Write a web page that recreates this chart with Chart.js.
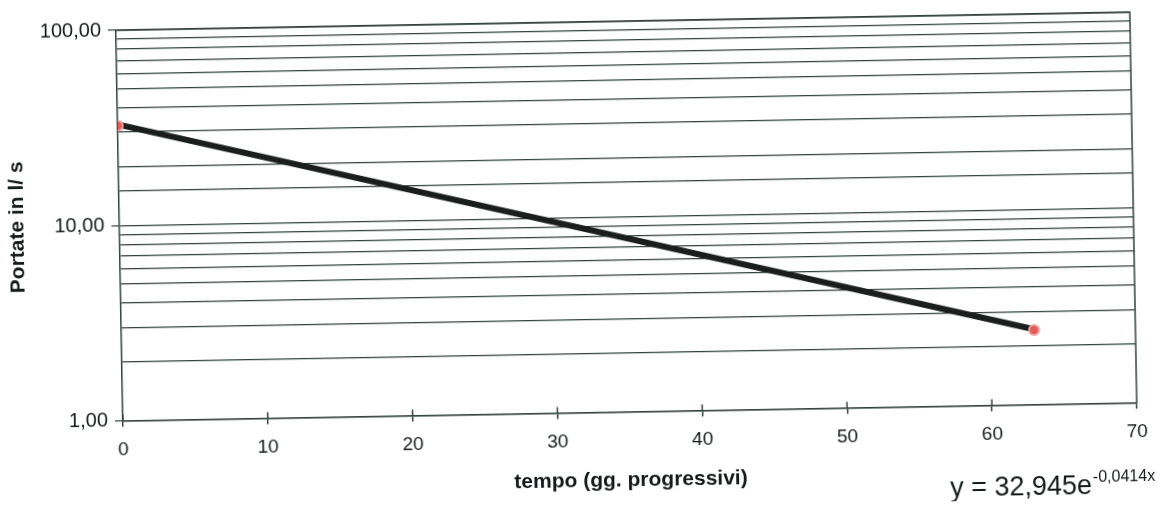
<!DOCTYPE html>
<html>
<head>
<meta charset="utf-8">
<script src="https://cdn.jsdelivr.net/npm/chart.js@4"></script>
<style>
  body { margin: 0; background: #fff; overflow: hidden; }
  #wrap { width: 1169px; height: 508px; }
  /* the scanned sheet sits slightly askew */
  #flowChart { transform: rotate(-1.02deg); transform-origin: 50% 50%; }
</style>
</head>
<body>
<div id="wrap"><canvas id="flowChart" width="1169" height="508"></canvas></div>
<script>
// measured flows
const days = [0, 63];
const flows = [32.4, 2.41];

// exponential trend line
const trendDays = [0, 63];
const trendFlows = [32.95, 2.43];

// axes
const xTicks = [0, 10, 20, 30, 40, 50, 60, 70];
const yMajor = [1, 10, 100];
const yLabels = ["1,00", "10,00", "100,00"];
const equation = "y = 32,945e";
const exponent = "-0,0414x";

const ink = "#141a19";
const lineCol = "#33403e";

// top + right border and the small inner x ticks
const frame = {
    id: "frame",
    beforeDatasetsDraw(chart) {
        const { ctx, chartArea: a, scales: { x } } = chart;
        ctx.save();
        ctx.strokeStyle = lineCol;
        ctx.lineWidth = 1.5;
        ctx.beginPath();
        ctx.moveTo(a.left, a.top);
        ctx.lineTo(a.right, a.top);
        ctx.lineTo(a.right, a.bottom);
        xTicks.forEach((v) => {
            const px = x.getPixelForValue(v);
            ctx.moveTo(px, a.bottom);
            ctx.lineTo(px, a.bottom - 6);
        });
        ctx.stroke();
        ctx.restore();
    },
    afterDraw(chart) {
        const ctx = chart.ctx;
        ctx.save();
        ctx.fillStyle = ink;
        ctx.textBaseline = "alphabetic";
        ctx.font = "27px 'Liberation Sans', Arial, sans-serif";
        ctx.fillText(equation, 946, 503);
        const w = ctx.measureText(equation).width;
        ctx.font = "16px 'Liberation Sans', Arial, sans-serif";
        ctx.fillText(exponent, 946 + w + 1, 491);
        ctx.restore();
    },
};

const ctx = document.getElementById("flowChart").getContext("2d");
new Chart(ctx, {
    type: "scatter",
    data: {
        datasets: [
            {
                label: "Portate",
                data: days.map((d, i) => ({ x: d, y: flows[i] })),
                pointRadius: 5,
                pointBackgroundColor: "#e25a5a",
                pointBorderColor: "#f3a3a3",
                pointBorderWidth: 2,
                showLine: false,
                order: 1,
            },
            {
                label: "Trend",
                data: trendDays.map((d, i) => ({ x: d, y: trendFlows[i] })),
                showLine: true,
                borderColor: "#1a1f1e",
                borderWidth: 6,
                pointRadius: 0,
                order: 2,
            },
        ],
    },
    options: {
        responsive: false,
        animation: false,
        layout: { padding: { left: 0, right: 35, top: 22, bottom: 0 } },
        plugins: { legend: { display: false }, tooltip: { enabled: false } },
        scales: {
            x: {
                type: "linear",
                min: 0,
                max: 70,
                afterFit: (s) => { s.height = 95.5; },
                afterBuildTicks: (s) => { s.ticks = xTicks.map((v) => ({ value: v })); },
                ticks: {
                    color: ink,
                    padding: 12,
                    maxRotation: 0,
                    font: { family: "'Liberation Sans', Arial", size: 19 },
                },
                grid: { drawOnChartArea: false, tickLength: 6, color: lineCol, lineWidth: 1.5 },
                border: { display: true, color: lineCol, width: 1.5 },
                title: {
                    display: true,
                    text: "tempo (gg. progressivi)",
                    color: ink,
                    padding: { top: 0, bottom: 14 },
                    font: { family: "'Liberation Sans', Arial", size: 21, weight: "bold" },
                },
            },
            y: {
                type: "logarithmic",
                min: 1,
                max: 100,
                afterFit: (s) => { s.width = 120; },
                ticks: {
                    autoSkip: false,
                    color: ink,
                    padding: 7,
                    font: { family: "'Liberation Sans', Arial", size: 20 },
                    callback: (v) => {
                        const i = yMajor.indexOf(v);
                        return i >= 0 ? yLabels[i] : "";
                    },
                },
                grid: {
                    color: lineCol,
                    lineWidth: 1.2,
                    tickLength: 8,
                    tickColor: (c) => (c.tick && yMajor.includes(c.tick.value) ? lineCol : "rgba(0,0,0,0)"),
                },
                border: { display: true, color: lineCol, width: 1.5 },
                title: {
                    display: true,
                    text: "Portate in l/ s",
                    color: ink,
                    padding: { top: 6, bottom: 0 },
                    font: { family: "'Liberation Sans', Arial", size: 21, weight: "bold" },
                },
            },
        },
    },
    plugins: [frame],
});
</script>
</body>
</html>
